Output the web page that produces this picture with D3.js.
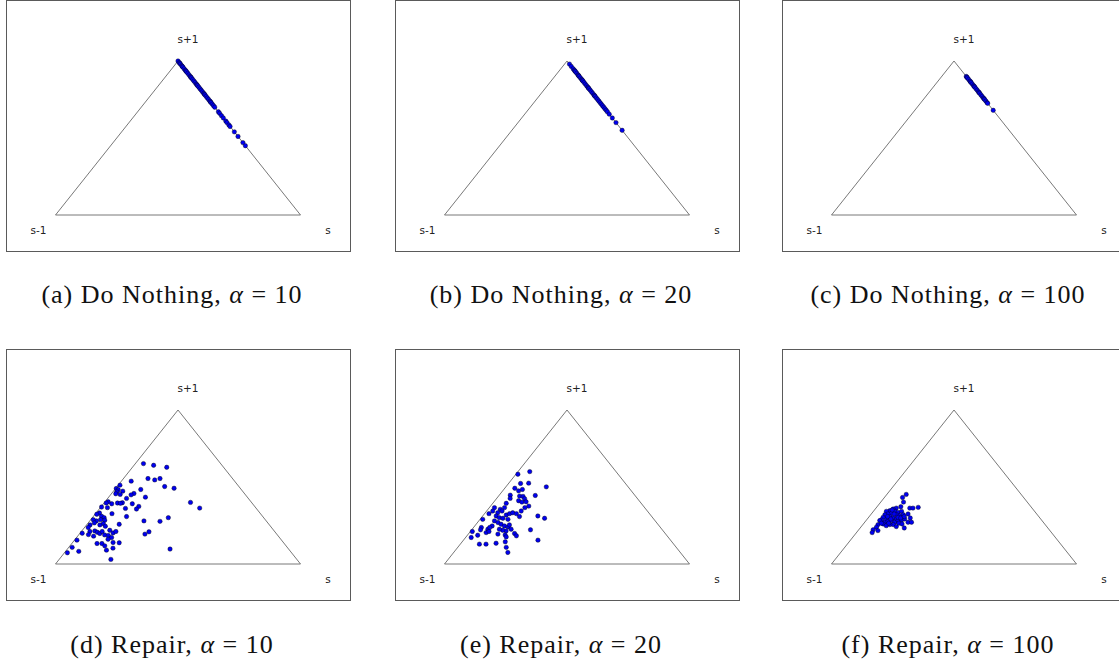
<!DOCTYPE html>
<html>
<head>
<meta charset="utf-8">
<script src="https://cdn.jsdelivr.net/npm/d3@7"></script>
<style>
  html, body { margin: 0; padding: 0; background: #fff; }
  svg { display: block; }
  text { white-space: pre; }
</style>
</head>
<body>
<script>
// Vertex labels of the simplex (s-1 bottom-left, s bottom-right, s+1 apex)
const vertexLabels = ["s-1", "s", "s+1"];

// Sub-figure captions
const panelTags = ["(a)", "(b)", "(c)", "(d)", "(e)", "(f)"];
const panelMethods = ["Do Nothing", "Do Nothing", "Do Nothing", "Repair", "Repair", "Repair"];
const panelAlphas = [10, 20, 100, 10, 20, 100];

// Do Nothing runs: every sample sits on the s / s+1 edge (s-1 share is zero),
// so only the s+1 share is listed.
const doNothing10 = [1.00, .99, .985, .98, .97, .965, .96, .95, .94, .935, .93, .92, .91, .90,
  .895, .89, .88, .87, .86, .85, .845, .84, .83, .82, .81, .80, .79, .785, .78, .77, .76, .75,
  .74, .735, .73, .72, .71, .70, .67, .66, .645, .63, .61, .60, .585, .575, .54, .51, .47, .45];
const doNothing20 = [.98, .965, .95, .94, .935, .93, .92, .91, .905, .90, .89, .88, .875, .87,
  .86, .85, .84, .83, .825, .82, .81, .80, .79, .78, .775, .77, .76, .75, .74, .73, .72, .71,
  .70, .69, .68, .67, .655, .63, .60, .55];
const doNothing100 = [.90, .895, .89, .88, .87, .865, .86, .85, .84, .835, .83, .82, .81, .80,
  .795, .79, .78, .77, .76, .755, .75, .74, .73, .725, .68];

// Repair runs: [share s-1, share s, share s+1]
const repair10 = [
  [.315,.033,.652],[.279,.080,.641],[.232,.140,.628],[.345,.100,.555],[.322,.132,.546],
  [.296,.149,.555],[.422,.040,.538],[.481,.007,.512],[.303,.194,.503],[.270,.238,.492],
  [.410,.106,.484],[.507,.003,.490],[.503,.015,.482],[.489,.038,.473],[.515,.016,.469],
  [.451,.091,.458],[.467,.084,.449],[.526,.018,.456],[.510,.038,.452],[.416,.150,.434],
  [.497,.077,.426],[.528,.074,.398],[.549,.055,.396],[.538,.068,.394],[.575,.034,.391],
  [.583,.013,.404],[.595,.009,.396],[.491,.118,.391],[.249,.351,.400],[.473,.153,.374],
  [.491,.152,.357],[.534,.105,.361],[.605,.029,.366],[.627,.003,.370],[.230,.407,.363],
  [.655,.014,.331],[.670,.007,.323],[.606,.067,.327],[.556,.136,.308],[.657,.033,.310],
  [.651,.048,.301],[.389,.310,.301],[.672,.040,.288],[.657,.059,.284],[.693,.027,.280],
  [.702,.010,.288],[.611,.131,.258],[.499,.221,.280],[.435,.288,.277],[.674,.064,.262],
  [.692,.054,.254],[.674,.081,.245],[.708,.025,.267],[.732,.014,.254],[.748,.015,.237],
  [.732,.053,.215],[.726,.068,.206],[.720,.082,.198],[.704,.085,.211],[.669,.112,.219],
  [.664,.134,.202],[.648,.141,.211],[.705,.106,.189],[.754,.035,.211],[.770,.039,.191],
  [.791,.009,.200],[.538,.268,.194],[.514,.277,.209],[.692,.123,.185],[.754,.065,.181],
  [.685,.143,.172],[.835,.010,.155],[.744,.123,.133],[.764,.103,.133],[.671,.191,.138],
  [.695,.165,.140],[.705,.134,.161],[.740,.142,.118],[.747,.163,.090],[.714,.183,.103],
  [.878,.014,.108],[.915,.012,.073],[.864,.054,.082],[.484,.419,.097],[.759,.211,.030]
];
const repair20 = [
  [.352,.048,.600],[.409,.008,.583],[.428,.049,.523],[.394,.081,.525],[.334,.165,.501],
  [.467,.041,.492],[.460,.065,.475],[.440,.076,.484],[.508,.045,.447],[.473,.086,.441],
  [.460,.101,.439],[.407,.148,.445],[.461,.115,.424],[.492,.097,.411],[.519,.055,.426],
  [.551,.055,.394],[.483,.115,.402],[.465,.131,.404],[.468,.156,.376],[.489,.145,.366],
  [.572,.062,.366],[.595,.050,.355],[.613,.021,.366],[.631,.025,.344],[.616,.051,.333],
  [.593,.063,.344],[.589,.093,.318],[.571,.102,.327],[.555,.112,.333],[.543,.130,.327],
  [.515,.141,.344],[.540,.152,.308],[.463,.225,.312],[.443,.260,.297],[.655,.018,.327],
  [.699,.011,.290],[.633,.055,.312],[.626,.073,.301],[.613,.090,.297],[.596,.114,.290],
  [.656,.064,.280],[.647,.084,.269],[.640,.102,.258],[.632,.121,.247],[.620,.139,.241],
  [.608,.138,.254],[.615,.159,.226],[.641,.144,.215],[.653,.128,.219],[.663,.111,.226],
  [.682,.071,.247],[.710,.064,.226],[.697,.066,.237],[.731,.032,.237],[.742,.036,.222],
  [.781,.008,.211],[.805,.023,.172],[.771,.042,.187],[.728,.068,.204],[.713,.076,.211],
  [.685,.121,.194],[.658,.153,.189],[.660,.164,.176],[.615,.187,.198],[.615,.202,.183],
  [.538,.240,.222],[.541,.304,.155],[.680,.176,.144],[.694,.198,.108],[.704,.221,.075],
  [.793,.078,.129],[.766,.105,.129],[.722,.143,.135]
];
const repair100 = [
  [.469,.079,.452],[.494,.074,.432],[.505,.093,.402],[.531,.097,.372],[.554,.083,.363],
  [.570,.073,.357],[.589,.065,.346],[.605,.053,.342],[.570,.088,.342],[.561,.104,.335],
  [.543,.115,.342],[.591,.080,.329],[.607,.068,.325],[.622,.058,.320],[.575,.105,.320],
  [.564,.122,.314],[.547,.133,.320],[.608,.084,.308],[.599,.102,.299],[.589,.119,.292],
  [.630,.078,.292],[.638,.059,.303],[.653,.061,.286],[.662,.056,.282],[.647,.082,.271],
  [.631,.092,.277],[.614,.104,.282],[.606,.123,.271],[.587,.131,.282],[.571,.143,.286],
  [.555,.153,.292],[.620,.124,.256],[.634,.110,.256],[.659,.081,.260],[.652,.099,.249],
  [.682,.062,.256],[.697,.064,.239],[.719,.059,.222],[.732,.064,.204],[.702,.081,.217],
  [.614,.143,.243],[.499,.138,.363],[.486,.151,.363],[.462,.170,.368],[.525,.150,.325],
  [.529,.172,.299],[.552,.177,.271],[.538,.191,.271],[.586,.180,.234],[.617,.075,.308],
  [.612,.096,.292],[.582,.093,.325],[.577,.120,.303],[.568,.133,.299],[.549,.143,.308],
  [.634,.101,.265],[.593,.142,.265],[.582,.158,.260],[.664,.071,.265],[.577,.072,.351]
];

const edgeRun = shares => shares.map(p => [0, 1 - p, p]);
const panelData = [
  edgeRun(doNothing10), edgeRun(doNothing20), edgeRun(doNothing100),
  repair10, repair20, repair100
];

// Layout
const W = 1119, H = 664;
const colX = [6, 395, 782];
const rowY = [0.5, 349.5];
const frameW = 344, frameH = 251;
const triLeft = 49.5, triRight = 294.5, triApex = 60.5, triBase = 214.5;
const captionBaseline = [303, 653];

const svg = d3.select("body").append("svg")
  .attr("width", W).attr("height", H)
  .attr("viewBox", `0 0 ${W} ${H}`);

svg.append("rect").attr("width", W).attr("height", H).attr("fill", "#fff");

panelData.forEach((pts, i) => {
  const col = i % 3, row = Math.floor(i / 3);
  const g = svg.append("g").attr("transform", `translate(${colX[col]},${rowY[row]})`);

  // Frame
  g.append("rect")
    .attr("x", 0.5).attr("y", 0)
    .attr("width", frameW).attr("height", frameH)
    .attr("fill", "none").attr("stroke", "#5a5a5a").attr("stroke-width", 1);

  // Barycentric -> planar: horizontal = s + (s+1)/2, vertical = s+1
  const x = d3.scaleLinear().domain([0, 1]).range([triLeft, triRight]);
  const y = d3.scaleLinear().domain([0, 1]).range([triBase, triApex]);
  const px = d => x(d[1] + d[2] / 2);
  const py = d => y(d[2]);

  const corners = [[1, 0, 0], [0, 1, 0], [0, 0, 1]];
  g.append("path")
    .attr("d", d3.line().x(px).y(py)(corners) + "Z")
    .attr("fill", "none").attr("stroke", "#555").attr("stroke-width", 0.8);

  // Vertex labels
  const lab = g.append("g")
    .attr("font-family", "DejaVu Sans, sans-serif")
    .attr("font-size", 10.5).attr("fill", "#222");
  lab.append("text").attr("x", px(corners[0]) - 17).attr("y", triBase + 19)
    .attr("text-anchor", "middle").text(vertexLabels[0]);
  lab.append("text").attr("x", px(corners[1]) + 27.5).attr("y", triBase + 19)
    .attr("text-anchor", "middle").text(vertexLabels[1]);
  lab.append("text").attr("x", px(corners[2]) + 10).attr("y", triApex - 18)
    .attr("text-anchor", "middle").text(vertexLabels[2]);

  // Samples
  g.append("g").selectAll("circle").data(pts).join("circle")
    .attr("cx", px).attr("cy", py).attr("r", 2.2)
    .attr("fill", "#0000f0").attr("stroke", "#000").attr("stroke-width", 0.4);

  // Caption
  const cap = svg.append("text")
    .attr("x", colX[col] + frameW / 2 - 6)
    .attr("y", captionBaseline[row])
    .attr("text-anchor", "middle")
    .attr("font-family", "Liberation Serif, serif")
    .attr("font-size", 26).attr("letter-spacing", 1.0).attr("fill", "#111");
  cap.append("tspan").text(`${panelTags[i]} ${panelMethods[i]}, `);
  cap.append("tspan").attr("font-style", "italic").text("α");
  cap.append("tspan").text(" = ");
  cap.append("tspan").text(`${panelAlphas[i]}`);
});
</script>
</body>
</html>
